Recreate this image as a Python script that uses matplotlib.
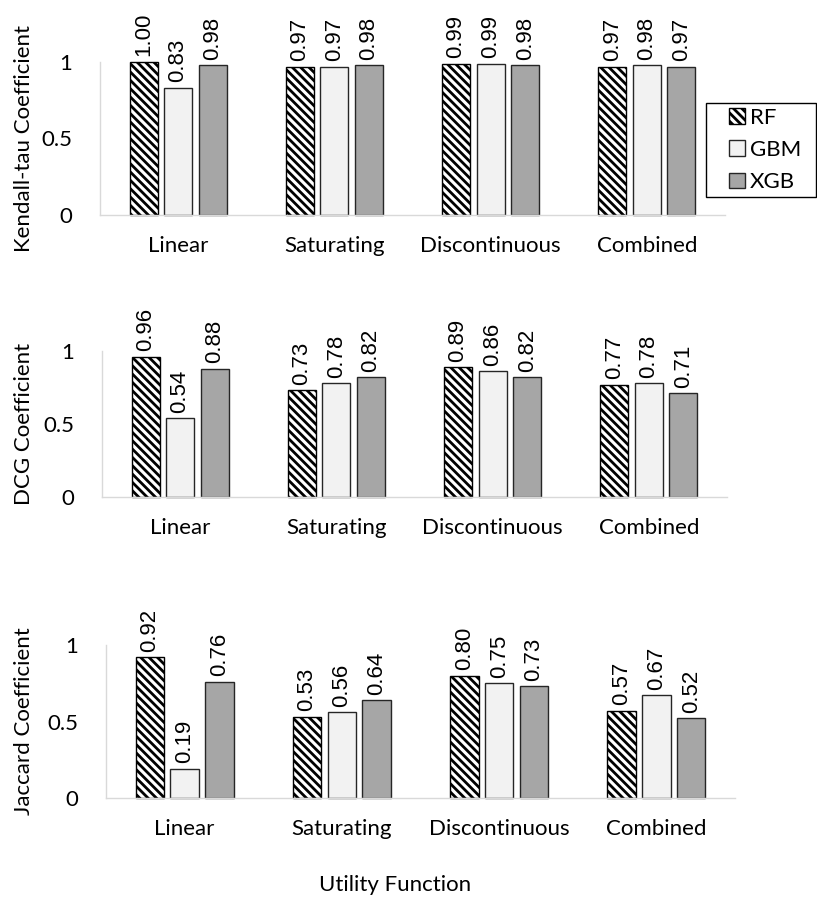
import matplotlib
matplotlib.use("Agg")
import matplotlib.pyplot as plt
import numpy as np
from matplotlib.patches import Patch, Rectangle

plt.rcParams['hatch.linewidth'] = 2.0

categories = ["Linear", "Saturating", "Discontinuous", "Combined"]
models = ["RF", "GBM", "XGB"]

kendall_rf = [1.00, 0.97, 0.99, 0.97]
kendall_gbm = [0.83, 0.97, 0.99, 0.98]
kendall_xgb = [0.98, 0.98, 0.98, 0.97]

dcg_rf = [0.96, 0.73, 0.89, 0.77]
dcg_gbm = [0.54, 0.78, 0.86, 0.78]
dcg_xgb = [0.88, 0.82, 0.82, 0.71]

jaccard_rf = [0.92, 0.53, 0.80, 0.57]
jaccard_gbm = [0.19, 0.56, 0.75, 0.67]
jaccard_xgb = [0.76, 0.64, 0.73, 0.52]

panels = [
    ("Kendall-tau Coefficient", [kendall_rf, kendall_gbm, kendall_xgb]),
    ("DCG Coefficient", [dcg_rf, dcg_gbm, dcg_xgb]),
    ("Jaccard Coefficient", [jaccard_rf, jaccard_gbm, jaccard_xgb]),
]

W, H = 817, 899
# axes boxes in pixels: left, right, top (y=1), bottom (y=0)
boxes = [(100, 725, 62, 215), (102, 727, 351, 497), (106, 735, 645, 798)]

styles = [
    dict(facecolor="white", edgecolor="black", hatch="\\\\\\\\"),
    dict(facecolor="#f2f2f2", edgecolor="#262626"),
    dict(facecolor="#a6a6a6", edgecolor="#262626"),
]

text_font = "Lato"
num_font = "Liberation Sans"
fs = 16

fig = plt.figure(figsize=(W / 100, H / 100), dpi=100)

x = np.arange(len(categories))
bw = 0.18
offs = [-0.221, 0.0, 0.221]

for (ylabel, series), (l, r, t, b) in zip(panels, boxes):
    ax = fig.add_axes([l / W, (H - b) / H, (r - l) / W, (b - t) / H])
    for k, (vals, st) in enumerate(zip(series, styles)):
        bars = ax.bar(x + offs[k], vals, width=bw, linewidth=1.0, clip_on=False, **st)
        for rect, v in zip(bars, vals):
            ax.annotate(f"{v:.2f}", (rect.get_x() + rect.get_width() / 2, v),
                        xytext=(0, 4), textcoords="offset points",
                        rotation=90, ha="center", va="bottom",
                        fontsize=16, family=num_font, color="black",
                        annotation_clip=False)
    ax.set_xlim(-0.5, len(categories) - 0.5)
    ax.set_ylim(0, 1)
    ax.set_yticks([0, 0.5, 1])
    ax.set_yticklabels(["0", "0.5", "1"], family=text_font, fontsize=fs)
    ax.set_xticks(x)
    ax.set_xticklabels(categories, family=text_font, fontsize=fs)
    ax.tick_params(axis="both", length=0)
    ax.tick_params(axis="y", pad=20)
    ax.tick_params(axis="x", pad=15)
    for s in ("top", "right"):
        ax.spines[s].set_visible(False)
    for s in ("left", "bottom"):
        ax.spines[s].set_color("#d9d9d9")
        ax.spines[s].set_linewidth(1.0)
    ax.set_ylabel(ylabel, family=text_font, fontsize=fs)
    ax.yaxis.set_label_coords(-(l - 34) / (r - l), 0.5)

fig.text(395 / W, 1 - 885 / H, "Utility Function", family=text_font,
         fontsize=fs, ha="center", va="center")

# legend frame, then entries inside it
fig.add_artist(Rectangle((706 / W, 1 - 197 / H), 110 / W, 94 / H,
                         transform=fig.transFigure, facecolor="white",
                         edgecolor="black", linewidth=1.0))
handles = [Patch(linewidth=1.0, label=m, **st) for m, st in zip(models, styles)]
leg = fig.legend(handles=handles, loc="center left",
                 bbox_to_anchor=(729 / W, 1 - 150 / H),
                 frameon=False,
                 prop={"family": text_font, "size": fs},
                 handlelength=0.7, handleheight=0.7, handletextpad=0.25,
                 labelspacing=0.55, borderpad=0, borderaxespad=0)

fig.savefig("out.png", dpi=100)
